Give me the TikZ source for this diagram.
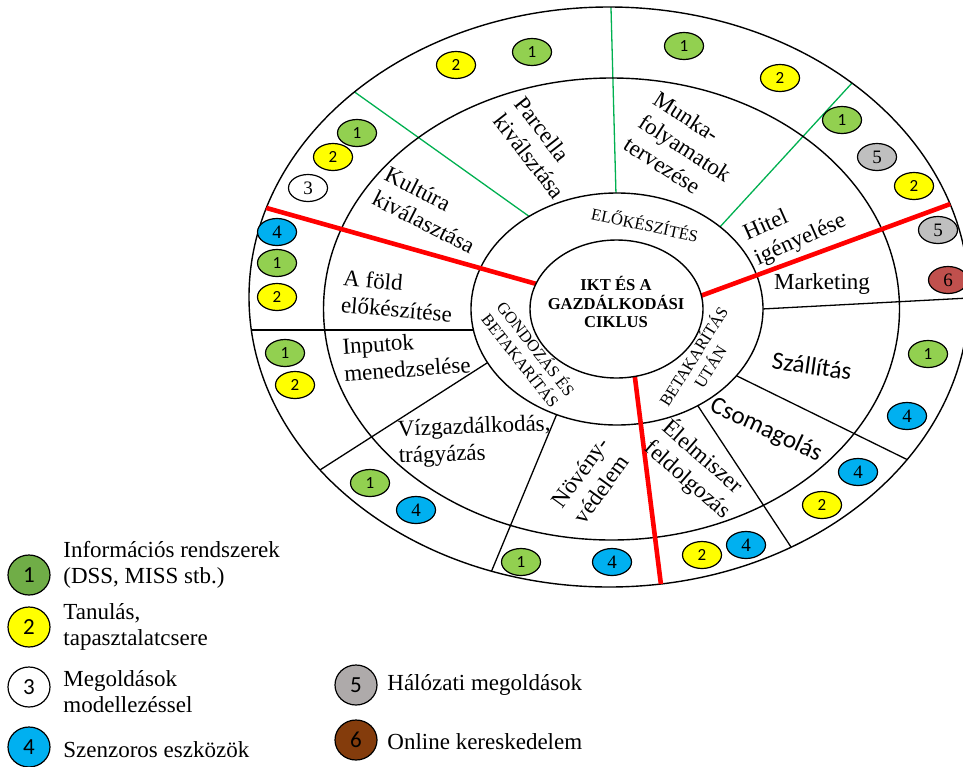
\documentclass[tikz,border=0pt]{standalone}
\usepackage{fontspec}
\setmainfont{Liberation Serif}
\newfontfamily\carlito{Carlito}
\usetikzlibrary{shapes.geometric}

\definecolor{irGreen}{HTML}{92D050}
\definecolor{irGreenDark}{HTML}{70AD47}
\definecolor{tanYellow}{HTML}{FFFF00}
\definecolor{szenBlue}{HTML}{00B0F0}
\definecolor{halGray}{HTML}{BFBFBF}
\definecolor{halGrayDark}{HTML}{AEAAAA}
\definecolor{onlBrown}{HTML}{C0504D}
\definecolor{onlBrownDark}{HTML}{843C0C}
\definecolor{sepGreen}{HTML}{00B050}

\tikzset{
  ring/.style={draw, line width=0.7pt},
  sepline/.style={line width=0.65pt, shorten <=-10pt, shorten >=-10pt},
  greensep/.style={sepline, draw=sepGreen},
  redsep/.style={line width=2.3pt, draw=red, shorten <=-10pt, shorten >=-10pt},
  badge/.style={ellipse, draw, line width=0.6pt, minimum width=19.5pt, minimum height=13.5pt, inner sep=0pt},
  bsans/.style={badge, font=\carlito\fontsize{8.5}{8.5}\selectfont},
  bserif/.style={badge, font=\fontsize{9.5}{9.5}\selectfont},
  b1/.style={bsans, fill=irGreen},
  b2/.style={bsans, fill=tanYellow},
  b3/.style={bserif, fill=white},
  b4/.style={bserif, fill=szenBlue},
  b5/.style={bserif, fill=halGray},
  b6/.style={bserif, fill=onlBrown},
  phase/.style={align=left, inner sep=0pt, font=\fontsize{11.5}{13.5}\selectfont},
  phasesans/.style={inner sep=0pt, font=\carlito\fontsize{12.5}{14}\selectfont},
  stage/.style={align=center, inner sep=0pt, font=\fontsize{8.3}{9.8}\selectfont},
  keydot/.style={ellipse, draw, line width=0.6pt, minimum width=21pt, minimum height=20pt, inner sep=0pt, font=\carlito\fontsize{11.5}{11.5}\selectfont},
  keytext/.style={anchor=west, align=left, inner sep=0pt, font=\fontsize{11.5}{13}\selectfont}
}

\begin{document}
\begin{tikzpicture}[x=0.5pt, y=-0.5pt]
  \useasboundingbox (0,0) rectangle (963,766);

  % segment borders of the outer rings
  \begin{scope}
    \clip (609,297) ellipse [x radius=360, y radius=290];
    \draw[sepline] (475,330) -- (248,330);
    \draw[sepline] (487,363) -- (323,468);
    \draw[sepline] (556,416) -- (492,570);
    \draw[sepline] (698,406) -- (791,547);
    \draw[sepline] (737,376) -- (908,460);
    \draw[sepline] (762,309) -- (969,298);
    \draw[greensep] (530,217) -- (356,93);
    \draw[greensep] (616,195) -- (611,8);
    \draw[greensep] (719,228) -- (852,83);
  \end{scope}

  \draw[ring] (611.5,309) ellipse [x radius=288, y radius=231];
  \draw[ring] (609,297) ellipse [x radius=360, y radius=290];
  \draw[ring, fill=white] (617,309) ellipse [x radius=146, y radius=116];

  % phase borders
  \begin{scope}
    \clip (609,297) ellipse [x radius=360, y radius=290];
    \draw[redsep] (533,283) -- (263,207);
    \draw[redsep] (703,295) -- (953,203);
    \draw[redsep] (635,378) -- (661,585);
  \end{scope}

  \draw[ring, fill=white] (616.5,309) ellipse [x radius=86.5, y radius=69];

  % centre and phases
  \node[align=center, inner sep=0pt, font=\bfseries\fontsize{8.3}{9.3}\selectfont] (ikt) at (616,302) {IKT ÉS A\\GAZDÁLKODÁSI\\CIKLUS};
  \node[stage, rotate=-12] (prep) at (645,224) {ELŐKÉSZÍTÉS};
  \node[stage, rotate=-52] (care) at (529,354) {GONDOZÁS ÉS\\BETAKARÍTÁS};
  \node[stage, rotate=58] (post) at (701,361) {BETAKARÍTÁS\\UTÁN};

  % activities
  \node[phase, rotate=-52] (parcella) at (540,148) {Parcella\\kiválsztása};
  \node[phase, rotate=-27] (kultura) at (430,210) {Kultúra\\kiválasztása};
  \node[phase, rotate=-33] (munka) at (685,148) {Munka-\\folyamatok\\tervezése};
  \node[phase, rotate=24] (hitel) at (795,228) {Hitel\\igényelése};
  \node[phase] (marketing) at (822,284) {Marketing};
  \node[phasesans, rotate=-8] (szallitas) at (812,366) {Szállítás};
  \node[phasesans, rotate=-25] (csomag) at (766,430) {Csomagolás};
  \node[phase, rotate=-41] (elelmiszer) at (697,469) {Élelmiszer\\feldolgozás};
  \node[phase, rotate=54] (noveny) at (591,480) {Növény-\\védelem};
  \node[phase, anchor=west, rotate=2] (viz) at (398,444) {Vízgazdálkodás,\\trágyázás};
  \node[phase, anchor=west, rotate=4] (input) at (343,360) {Inputok\\menedzselése};
  \node[phase, anchor=west, rotate=-5] (fold) at (342,291) {A föld\\előkészítése};

  % tools per activity
  \foreach \x/\y in {532/52, 684/46, 842/120, 928/354, 521/562, 370/483, 285/353, 277/263, 357/133}
    \node[b1] (one-\x-\y) at (\x,\y) {1};
  \foreach \x/\y in {456/65, 780/78, 914/186, 822/505, 702/555, 295/385, 277/297, 333/157}
    \node[b2] (two-\x-\y) at (\x,\y) {2};
  \node[b3] (three-308-188) at (308,188) {3};
  \foreach \x/\y in {907/416, 858/472, 746/545, 612/562, 416/510, 277/232}
    \node[b4] (four-\x-\y) at (\x,\y) {4};
  \foreach \x/\y in {877/157, 938/230}
    \node[b5] (five-\x-\y) at (\x,\y) {5};
  \node[b6] (six-948-280) at (948,280) {6};

  % legend
  \node[keydot, fill=irGreenDark] (key1) at (29,575) {1};
  \node[keydot, fill=tanYellow] (key2) at (29,627) {2};
  \node[keydot, fill=white] (key3) at (29,687) {3};
  \node[keydot, fill=szenBlue] (key4) at (29,747) {4};
  \node[keydot, fill=halGrayDark] (key5) at (356,685) {5};
  \node[keydot, fill=onlBrownDark] (key6) at (356,740) {6};
  \node[keytext] (key1t) at (63,565) {Információs rendszerek\\(DSS, MISS stb.)};
  \node[keytext] (key2t) at (63,627) {Tanulás,\\tapasztalatcsere};
  \node[keytext] (key3t) at (63,692) {Megoldások\\modellezéssel};
  \node[keytext] (key4t) at (63,750) {Szenzoros eszközök};
  \node[keytext] (key5t) at (387,685) {Hálózati megoldások};
  \node[keytext] (key6t) at (387,742) {Online kereskedelem};
\end{tikzpicture}
\end{document}
